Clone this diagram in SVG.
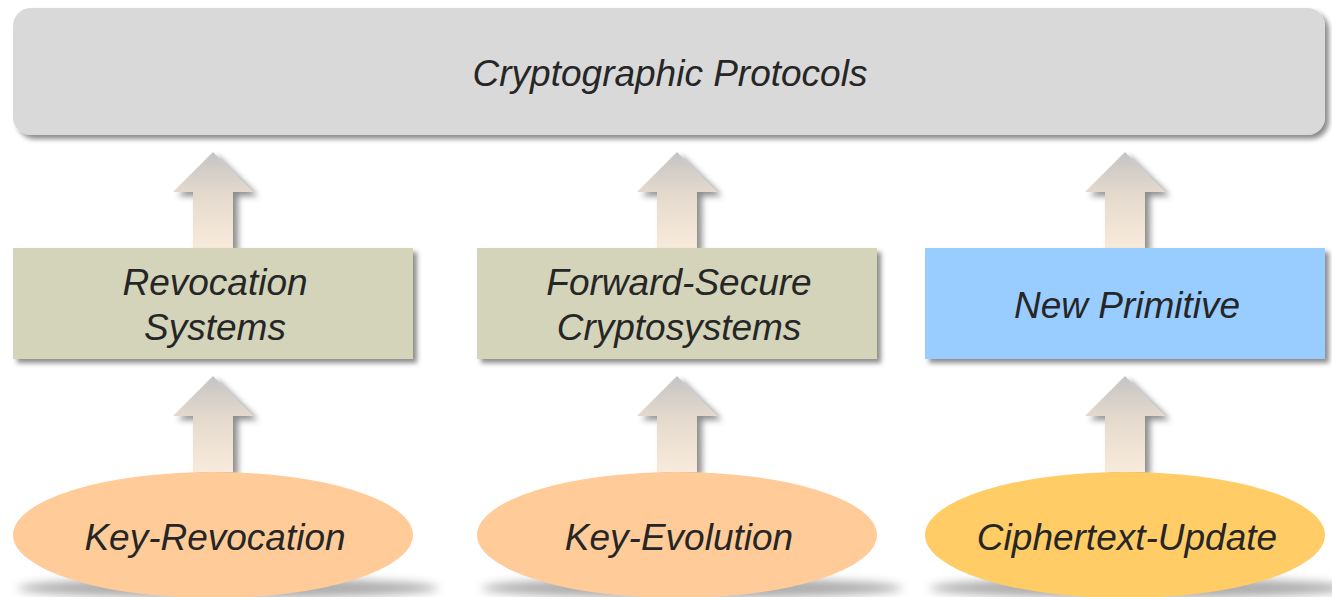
<svg xmlns="http://www.w3.org/2000/svg" width="1332" height="597" viewBox="0 0 1332 597">
<defs>
<linearGradient id="arrowGrad" x1="0" y1="0" x2="0" y2="1">
<stop offset="0" stop-color="#c4c4c4"/>
<stop offset="0.4" stop-color="#e2d8cc"/>
<stop offset="1" stop-color="#f8ebdc"/>
</linearGradient>
<filter id="shadow" x="-10%" y="-10%" width="130%" height="140%">
<feDropShadow dx="4" dy="4" stdDeviation="2.5" flood-color="#000" flood-opacity="0.45"/>
</filter>
<filter id="ashadow" x="-30%" y="-20%" width="160%" height="140%">
<feDropShadow dx="5" dy="4" stdDeviation="3" flood-color="#000" flood-opacity="0.45"/>
</filter>
<filter id="blur" x="-20%" y="-200%" width="140%" height="500%">
<feGaussianBlur stdDeviation="5"/>
</filter>
<path id="arrow" d="M0,0 L40,40 L20,40 L20,96 L-20,96 L-20,40 L-40,40 Z"/>
</defs>
<style>
.lbl{font-family:"Liberation Sans",Arial,sans-serif;font-style:italic;font-size:37px;fill:#262626;text-anchor:middle}
.box{fill:#d3d4b9;filter:url(#shadow)}
.ell-shadow{fill:#8a8a8a;opacity:0.7;filter:url(#blur)}
.arr{fill:url(#arrowGrad);filter:url(#ashadow)}
</style>

<g id="connectors">
<use href="#arrow" class="arr" x="213" y="152"/>
<use href="#arrow" class="arr" x="677" y="152"/>
<use href="#arrow" class="arr" x="1125" y="152"/>
<use href="#arrow" class="arr" x="213" y="376"/>
<use href="#arrow" class="arr" x="677" y="376"/>
<use href="#arrow" class="arr" x="1125" y="376"/>
</g>

<g id="node-protocols">
<rect x="13" y="8" width="1312" height="127" rx="18" fill="#d9d9d9" filter="url(#shadow)"/>
<text class="lbl" x="670" y="86">Cryptographic Protocols</text>
</g>

<g id="node-revocation-systems">
<rect class="box" x="13" y="248" width="400" height="111"/>
<text class="lbl" x="215" y="295">Revocation</text>
<text class="lbl" x="215" y="340">Systems</text>
</g>

<g id="node-forward-secure">
<rect class="box" x="477" y="248" width="400" height="111"/>
<text class="lbl" x="679" y="295">Forward-Secure</text>
<text class="lbl" x="679" y="340">Cryptosystems</text>
</g>

<g id="node-new-primitive">
<rect x="925" y="248" width="400" height="111" fill="#99ccff" filter="url(#shadow)"/>
<text class="lbl" x="1127" y="318">New Primitive</text>
</g>

<g id="node-key-revocation">
<ellipse class="ell-shadow" cx="228" cy="588" rx="210" ry="10"/>
<ellipse cx="213" cy="535" rx="200" ry="63" fill="#ffcc99"/>
<text class="lbl" x="215" y="550">Key-Revocation</text>
</g>

<g id="node-key-evolution">
<ellipse class="ell-shadow" cx="692" cy="588" rx="210" ry="10"/>
<ellipse cx="677" cy="535" rx="200" ry="63" fill="#ffcc99"/>
<text class="lbl" x="679" y="550">Key-Evolution</text>
</g>

<g id="node-ciphertext-update">
<ellipse class="ell-shadow" cx="1140" cy="588" rx="210" ry="10"/>
<ellipse cx="1125" cy="535" rx="200" ry="63" fill="#ffcc66"/>
<text class="lbl" x="1127" y="550">Ciphertext-Update</text>
</g>
</svg>
